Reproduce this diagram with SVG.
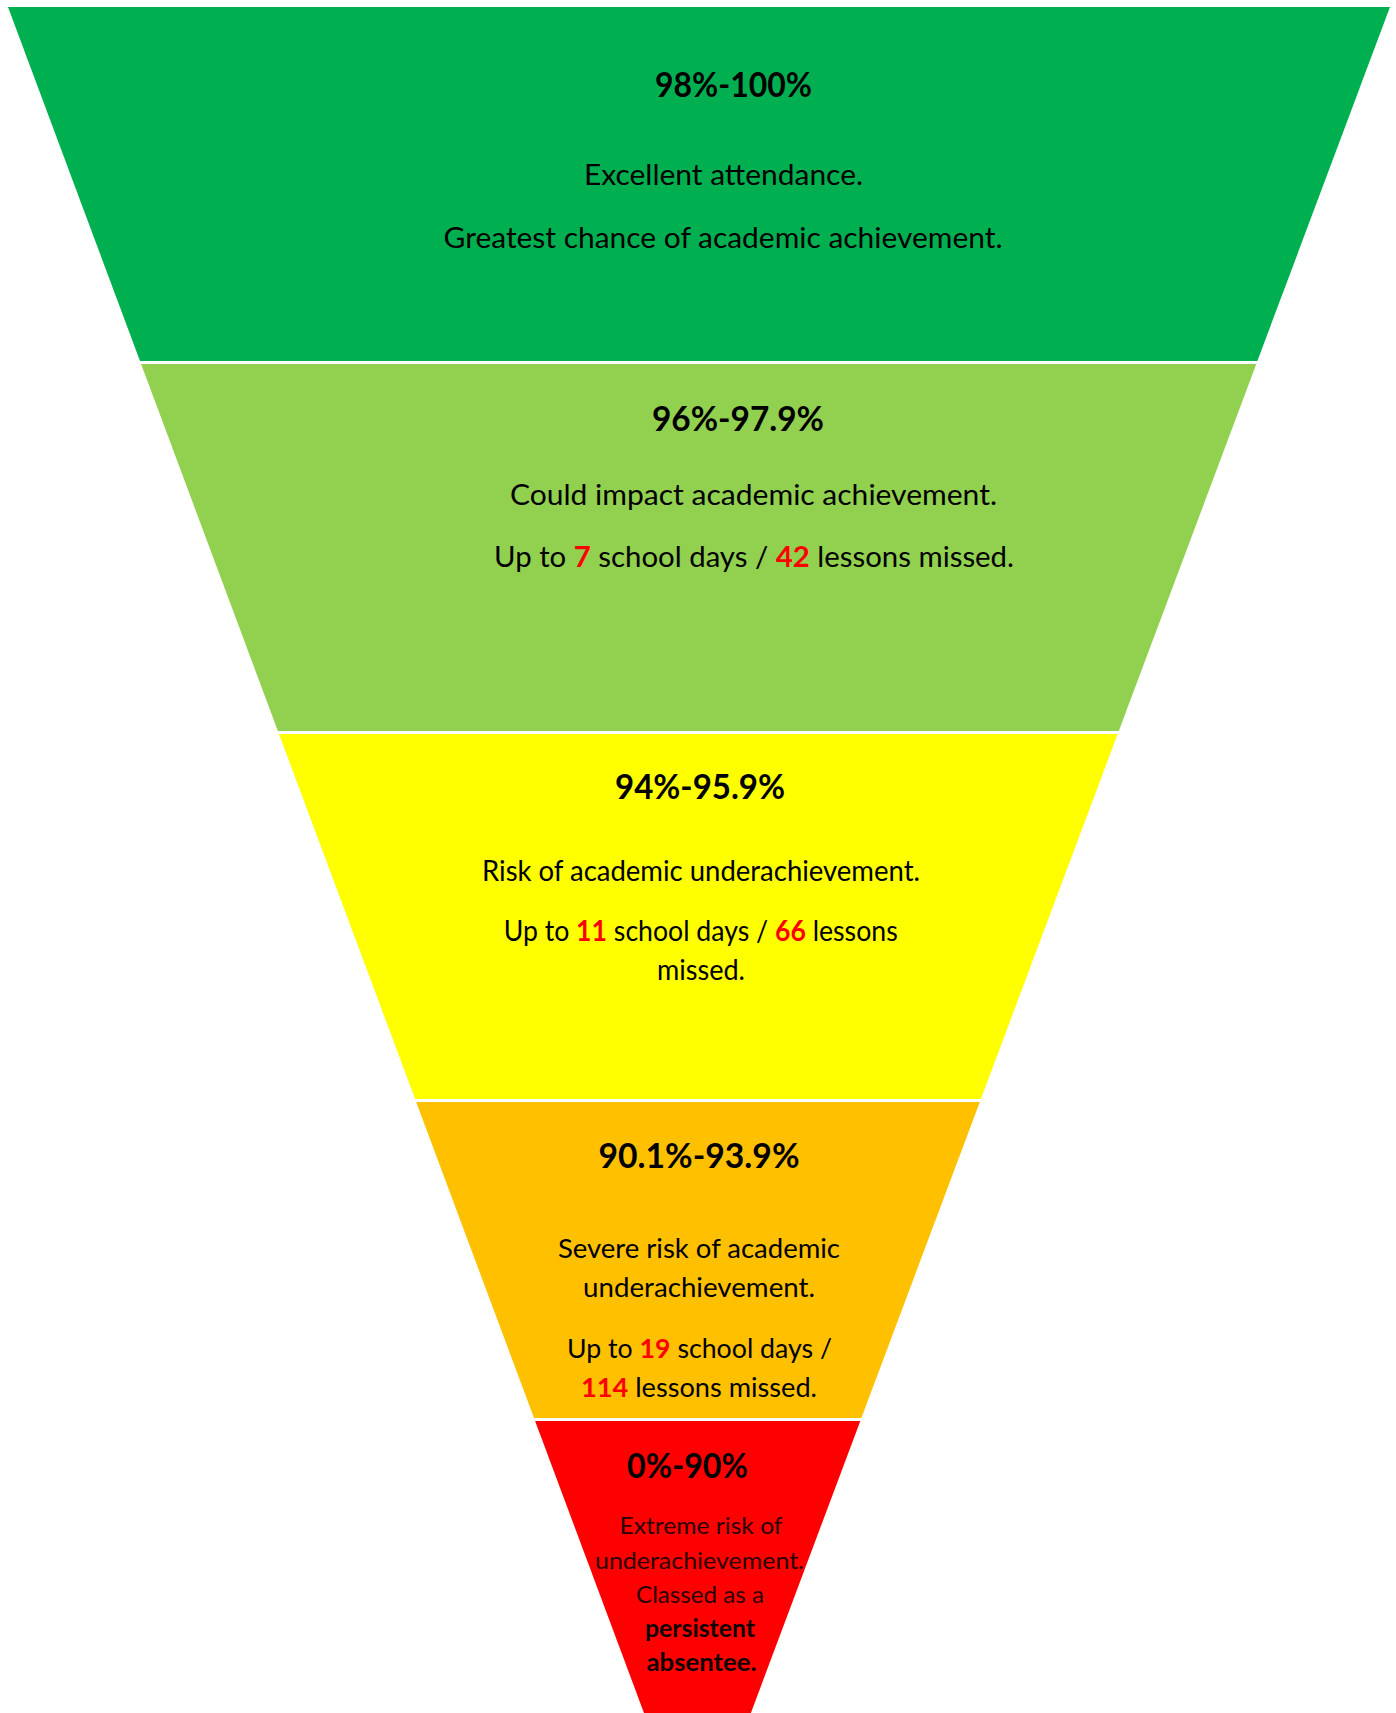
<svg xmlns="http://www.w3.org/2000/svg" width="1396" height="1713" viewBox="0 0 1396 1713">
<style>
  text { font-family: Lato, "Open Sans", "Liberation Sans", sans-serif; fill: #000; text-anchor: middle; }
  .t { font-weight: bold; font-size: 34px; }
  .b { font-size: 29px; }
  .b4 { font-size: 26.5px; }
  .b5 { font-size: 24px; fill: #2a0000; }
  .b5b { font-size: 24px; font-weight: bold; fill: #100000; }
  .n { fill: #FF0000; font-weight: bold; }
</style>
<rect x="0" y="0" width="1396" height="1713" fill="#FFFFFF"/>

<g id="band-98-100">
  <polygon points="8,7 1390,7 1257.4,361 140,361" fill="#00B050"/>
  <text class="t" x="733.5" y="97" textLength="157" lengthAdjust="spacingAndGlyphs">98%-100%</text>
  <text class="b" x="723.5" y="185" textLength="279" lengthAdjust="spacingAndGlyphs">Excellent attendance.</text>
  <text class="b" x="723" y="248" textLength="559" lengthAdjust="spacingAndGlyphs">Greatest chance of academic achievement.</text>
</g>

<g id="band-96-97-9">
  <polygon points="141.1,364 1256.3,364 1118.8,731 277.9,731" fill="#92D050"/>
  <text class="t" x="738" y="431" textLength="172" lengthAdjust="spacingAndGlyphs">96%-97.9%</text>
  <text class="b" x="753.5" y="505" textLength="487" lengthAdjust="spacingAndGlyphs">Could impact academic achievement.</text>
  <text class="b" x="754" y="567" textLength="520" lengthAdjust="spacingAndGlyphs">Up to <tspan class="n">7</tspan> school days / <tspan class="n">42</tspan> lessons missed.</text>
</g>

<g id="band-94-95-9">
  <polygon points="279,734 1117.7,734 980.9,1099 415.1,1099" fill="#FFFF00"/>
  <text class="t" x="700" y="799" textLength="170" lengthAdjust="spacingAndGlyphs">94%-95.9%</text>
  <text class="b" x="701" y="881" textLength="438" lengthAdjust="spacingAndGlyphs">Risk of academic underachievement.</text>
  <text class="b" x="700.7" y="941" textLength="394" lengthAdjust="spacingAndGlyphs">Up to <tspan class="n">11</tspan> school days / <tspan class="n">66</tspan> lessons</text>
  <text class="b" x="701" y="980" textLength="88" lengthAdjust="spacingAndGlyphs">missed.</text>
</g>

<g id="band-90-1-93-9">
  <polygon points="416.2,1102 979.8,1102 861.4,1418 534,1418" fill="#FFC000"/>
  <text class="t" x="699" y="1168" textLength="201" lengthAdjust="spacingAndGlyphs">90.1%-93.9%</text>
  <text class="b4" x="699" y="1258" textLength="282" lengthAdjust="spacingAndGlyphs">Severe risk of academic</text>
  <text class="b4" x="699" y="1297" textLength="232" lengthAdjust="spacingAndGlyphs">underachievement.</text>
  <text class="b4" x="699.5" y="1358" textLength="265" lengthAdjust="spacingAndGlyphs">Up to <tspan class="n">19</tspan> school days /</text>
  <text class="b4" x="699" y="1397" textLength="236" lengthAdjust="spacingAndGlyphs"><tspan class="n">114</tspan> lessons missed.</text>
</g>

<g id="band-0-90">
  <polygon points="535.1,1421 860.3,1421 750.9,1713 644,1713" fill="#FF0000"/>
  <text class="t" x="687.5" y="1478" textLength="121" lengthAdjust="spacingAndGlyphs">0%-90%</text>
  <text class="b5" x="701" y="1534" textLength="163" lengthAdjust="spacingAndGlyphs">Extreme risk of</text>
  <text class="b5" x="699.5" y="1568.5" textLength="209" lengthAdjust="spacingAndGlyphs">underachievement.</text>
  <text class="b5" x="700" y="1603" textLength="128" lengthAdjust="spacingAndGlyphs">Classed as a</text>
  <text class="b5b" x="700" y="1637" textLength="110" lengthAdjust="spacingAndGlyphs">persistent</text>
  <text class="b5b" x="701.5" y="1671" textLength="110" lengthAdjust="spacingAndGlyphs">absentee.</text>
</g>
</svg>
